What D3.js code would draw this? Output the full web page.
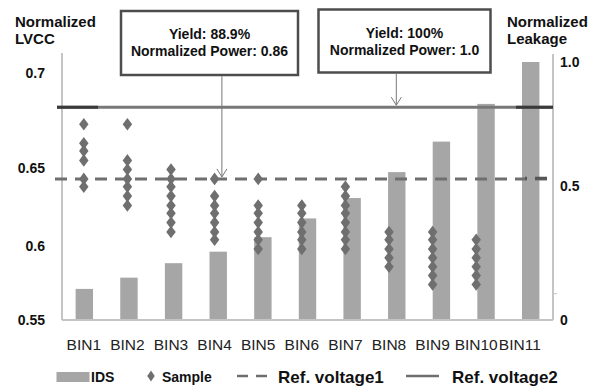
<!DOCTYPE html>
<html>
<head>
<meta charset="utf-8">
<script src="https://cdn.jsdelivr.net/npm/d3@7"></script>
<style>
  html, body { margin: 0; padding: 0; background: #fff; }
  svg { display: block; font-family: "Liberation Sans", Arial, sans-serif; }
</style>
</head>
<body>
<svg id="chart" width="598" height="390"></svg>
<script>
// ---- data ----
const bins = ["BIN1", "BIN2", "BIN3", "BIN4", "BIN5", "BIN6", "BIN7", "BIN8", "BIN9", "BIN10", "BIN11"];

// normalized leakage current (IDS) per bin, right axis
const idsValues = [0.116, 0.158, 0.212, 0.255, 0.309, 0.379, 0.455, 0.556, 0.679, 0.831, 1.0];

// normalized LVCC of the measured samples in each bin, left axis
const sampleValues = [
  [0.673, 0.663, 0.659, 0.654, 0.643, 0.638],
  [0.673, 0.654, 0.649, 0.643, 0.638, 0.632, 0.626],
  [0.649, 0.643, 0.638, 0.632, 0.626, 0.621, 0.615, 0.609],
  [0.643, 0.632, 0.626, 0.621, 0.615, 0.609, 0.604],
  [0.643, 0.626, 0.621, 0.615, 0.609, 0.604, 0.598],
  [0.626, 0.621, 0.615, 0.609, 0.604, 0.598],
  [0.638, 0.632, 0.626, 0.621, 0.615, 0.609, 0.604, 0.598],
  [0.609, 0.604, 0.598, 0.592, 0.586],
  [0.609, 0.604, 0.598, 0.592, 0.586, 0.580, 0.574],
  [0.604, 0.598, 0.592, 0.586, 0.580, 0.574],
  []
];

const refVoltage1 = 0.643;
const refVoltage2 = 0.682;

const leftTicks = [0.55, 0.6, 0.65, 0.7];
const leftTickLabels = ["0.55", "0.6", "0.65", "0.7"];
const rightTicks = [0, 0.5, 1.0];
const rightTickLabels = ["0", "0.5", "1.0"];

const leftTitle = ["Normalized", "LVCC"];
const rightTitle = ["Normalized", "Leakage"];

const callouts = [
  { lines: ["Yield: 88.9%", "Normalized Power: 0.86"], bin: "BIN4", target: refVoltage1 },
  { lines: ["Yield: 100%", "Normalized Power: 1.0"], bin: "BIN8", target: refVoltage2 }
];

const legendLabels = ["IDS", "Sample", "Ref. voltage1", "Ref. voltage2"];

// ---- layout ----
const svg = d3.select("#chart");
const plotLeft = 62, plotRight = 553, plotBottom = 320, plotTop = 53;
const barColor = "#a6a6a6";
const markColor = "#6f6f6f";
const axisColor = "#c4c4c4";

// category scale for the IDS bars
const xBar = d3.scaleBand().domain(bins).range([plotLeft, plotRight])
  .paddingInner(0.61).paddingOuter(0.305);
// category scale for the samples and the category labels
const xCat = d3.scaleBand().domain(bins).range([plotLeft, 541.6]).padding(0);

const yLeft = d3.scaleLinear().domain(leftTicks).range([320, 246, 168, 73]);
const yRight = d3.scaleLinear().domain(rightTicks).range([320, 186, 62]);

// bars
svg.append("g").selectAll("rect")
  .data(bins.map((b, i) => ({ bin: b, v: idsValues[i] })))
  .join("rect")
  .attr("x", d => xBar(d.bin))
  .attr("width", xBar.bandwidth())
  .attr("y", d => yRight(d.v))
  .attr("height", d => yRight(0) - yRight(d.v))
  .attr("fill", barColor);

// axis lines
const axes = svg.append("g").attr("stroke", axisColor).attr("stroke-width", 2);
axes.append("line").attr("x1", plotLeft).attr("x2", plotLeft).attr("y1", plotTop).attr("y2", plotBottom);
axes.append("line").attr("x1", plotRight).attr("x2", plotRight).attr("y1", plotTop + 1).attr("y2", plotBottom);
axes.append("line").attr("x1", plotLeft).attr("x2", plotRight).attr("y1", plotBottom).attr("y2", plotBottom);

// reference voltage lines
const yr1 = yLeft(refVoltage1), yr2 = yLeft(refVoltage2);
svg.append("line")
  .attr("x1", 55).attr("x2", plotRight).attr("y1", yr1).attr("y2", yr1)
  .attr("stroke", markColor).attr("stroke-width", 3).attr("stroke-dasharray", "12,8");
svg.append("line")
  .attr("x1", 525).attr("x2", plotRight).attr("y1", yr1 - 0.7).attr("y2", yr1 - 0.7)
  .attr("stroke", "#555").attr("stroke-width", 3).attr("stroke-dasharray", "12,8").attr("stroke-dashoffset", -10);
svg.append("line")
  .attr("x1", 57).attr("x2", plotRight).attr("y1", yr2).attr("y2", yr2)
  .attr("stroke", "#777").attr("stroke-width", 3);
svg.append("line")
  .attr("x1", 57).attr("x2", 98).attr("y1", yr2).attr("y2", yr2)
  .attr("stroke", "#3a3a3a").attr("stroke-width", 3);
svg.append("line")
  .attr("x1", 516).attr("x2", plotRight).attr("y1", yr2).attr("y2", yr2)
  .attr("stroke", "#3a3a3a").attr("stroke-width", 3);

// sample diamonds
const diamond = d3.symbol().type(d3.symbolDiamond).size(46);
const samplePts = [];
bins.forEach((b, i) => sampleValues[i].forEach(v => samplePts.push({ bin: b, v })));
svg.append("g").selectAll("path")
  .data(samplePts)
  .join("path")
  .attr("d", diamond)
  .attr("transform", d => `translate(${xCat(d.bin) + xCat.bandwidth() / 2},${yLeft(d.v)}) scale(1.3,1)`)
  .attr("fill", markColor);

// left axis
const gl = svg.append("g").attr("transform", `translate(${plotLeft},0)`)
  .call(d3.axisLeft(yLeft).tickValues(leftTicks).tickSize(0).tickPadding(17)
    .tickFormat((d, i) => leftTickLabels[i]));
gl.select(".domain").remove();
gl.selectAll("text").attr("font-size", 14).attr("font-weight", "bold")
  .attr("fill", "#111").attr("font-family", "Liberation Sans, Arial, sans-serif");

// right axis
const gr = svg.append("g").attr("transform", `translate(${plotRight},0)`)
  .call(d3.axisRight(yRight).tickValues(rightTicks).tickSize(0).tickPadding(7)
    .tickFormat((d, i) => rightTickLabels[i]));
gr.select(".domain").remove();
gr.selectAll("text").attr("font-size", 14).attr("font-weight", "bold")
  .attr("fill", "#111").attr("font-family", "Liberation Sans, Arial, sans-serif");
// small minor tick
svg.append("g").attr("transform", `translate(${plotRight},0)`)
  .call(d3.axisRight(yRight).tickValues([0.1]).tickSize(4).tickFormat(""))
  .call(g => g.select(".domain").remove())
  .selectAll("line").attr("stroke", axisColor);

// category axis
const gx = svg.append("g").attr("transform", `translate(0,${plotBottom})`)
  .call(d3.axisBottom(xCat).tickSize(0).tickPadding(19));
gx.select(".domain").remove();
gx.selectAll("text").attr("font-size", 15.5).attr("fill", "#222")
  .attr("font-family", "'Liberation Sans Narrow', 'Arial Narrow', sans-serif");

// axis titles
const titleStyle = sel => sel.attr("font-size", 15).attr("font-weight", "bold").attr("fill", "#111");
svg.append("text").call(titleStyle).attr("x", 15).attr("y", 27)
  .selectAll("tspan").data(leftTitle).join("tspan")
  .attr("x", 15).attr("dy", (d, i) => i ? 17 : 0).text(d => d);
svg.append("text").call(titleStyle).attr("x", 507).attr("y", 27)
  .selectAll("tspan").data(rightTitle).join("tspan")
  .attr("x", 507).attr("dy", (d, i) => i ? 17 : 0).text(d => d);

// callout boxes with arrows
const boxes = [
  { x: 121, y: 11, w: 177, h: 64 },
  { x: 318.5, y: 9.5, w: 172, h: 63 }
];
callouts.forEach((c, i) => {
  const b = boxes[i];
  const g = svg.append("g");
  g.append("rect").attr("x", b.x).attr("y", b.y).attr("width", b.w).attr("height", b.h)
    .attr("fill", "#fff").attr("stroke", "#4d4d4d").attr("stroke-width", 2.5);
  g.selectAll("text").data(c.lines).join("text")
    .attr("x", b.x + b.w / 2).attr("y", (d, j) => b.y + 28 + j * 17)
    .attr("text-anchor", "middle").attr("font-size", 14).attr("font-weight", "bold")
    .attr("fill", "#111").text(d => d);
  const ax = xCat(c.bin) + xCat.bandwidth() / 2 + 7.3;
  const tipY = yLeft(c.target) - 2;
  g.append("line").attr("x1", ax).attr("x2", ax).attr("y1", b.y + b.h + 1.2).attr("y2", tipY)
    .attr("stroke", "#777").attr("stroke-width", 1);
  g.append("path").attr("d", `M${ax - 5},${tipY - 8} L${ax},${tipY} L${ax + 5},${tipY - 8}`)
    .attr("fill", "none").attr("stroke", "#777").attr("stroke-width", 1);
});

// legend
const lg = svg.append("g");
const ly = 377;
lg.append("rect").attr("x", 56.5).attr("y", ly - 5).attr("width", 33).attr("height", 10).attr("fill", barColor);
lg.append("text").attr("x", 91).attr("y", ly + 5).attr("font-size", 14).attr("font-weight", "bold")
  .attr("fill", "#111").text(legendLabels[0]);
lg.append("path").attr("d", d3.symbol().type(d3.symbolDiamond).size(34))
  .attr("transform", `translate(151,${ly - 1}) scale(1.2,1)`).attr("fill", markColor);
lg.append("text").attr("x", 162).attr("y", ly + 5).attr("font-size", 14).attr("font-weight", "bold")
  .attr("fill", "#111").text(legendLabels[1]);
lg.append("line").attr("x1", 237).attr("x2", 267).attr("y1", ly - 1).attr("y2", ly - 1)
  .attr("stroke", markColor).attr("stroke-width", 2.5).attr("stroke-dasharray", "11,8");
lg.append("text").attr("x", 278).attr("y", ly + 6).attr("font-size", 17).attr("font-weight", "bold")
  .attr("fill", "#111").text(legendLabels[2]);
lg.append("line").attr("x1", 406).attr("x2", 439).attr("y1", ly - 1).attr("y2", ly - 1)
  .attr("stroke", markColor).attr("stroke-width", 2.5);
lg.append("text").attr("x", 452).attr("y", ly + 6).attr("font-size", 17).attr("font-weight", "bold")
  .attr("fill", "#111").text(legendLabels[3]);
</script>
</body>
</html>
